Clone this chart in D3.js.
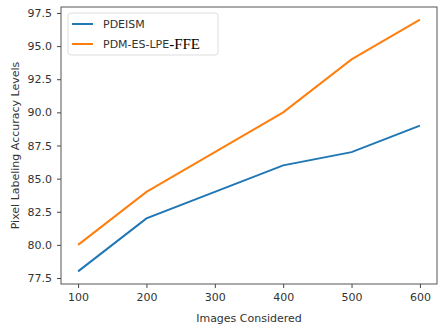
<!DOCTYPE html>
<html>
<head>
<meta charset="utf-8">
<script src="https://cdn.jsdelivr.net/npm/d3@7"></script>
<style>
  body { margin: 0; background: #fff; }
  text { font-family: "DejaVu Sans", sans-serif; fill: #333; }
</style>
</head>
<body>
<svg id="chart" width="447" height="332"></svg>
<script>
var images = [100, 200, 300, 400, 500, 600];
var pdeism = [78, 82, 84, 86, 87, 89];
var pdmFfe = [80, 84, 87, 90, 94, 97];
var yTicks = [77.5, 80.0, 82.5, 85.0, 87.5, 90.0, 92.5, 95.0, 97.5];
var seriesNames = ["PDEISM", "PDM-ES-LPE"];
var colors = ["#1f77b4", "#ff7f0e"];

var svg = d3.select("#chart");
var margin = {top: 7, right: 10, bottom: 48, left: 61};
var width = 447 - margin.left - margin.right;
var height = 332 - margin.top - margin.bottom;

var g = svg.append("g")
    .attr("transform", "translate(" + margin.left + "," + margin.top + ")");

var x = d3.scaleLinear().domain([75, 625]).range([0, width]);
var y = d3.scaleLinear().domain([77.05, 97.95]).range([height, 0]);

var line = d3.line()
    .x(function(d, i) { return x(images[i]); })
    .y(function(d) { return y(d); });

[pdeism, pdmFfe].forEach(function(s, i) {
    g.append("path")
        .datum(s)
        .attr("fill", "none")
        .attr("stroke", colors[i])
        .attr("stroke-width", 2)
        .attr("d", line);
});

var xAxis = g.append("g")
    .attr("transform", "translate(0," + height + ")")
    .call(d3.axisBottom(x).tickValues(images).tickSize(4).tickPadding(5));
var yAxis = g.append("g")
    .call(d3.axisLeft(y).tickValues(yTicks).tickFormat(d3.format(".1f")).tickSize(4).tickPadding(5));

[xAxis, yAxis].forEach(function(a) {
    a.select(".domain").remove();
    a.selectAll("line").attr("stroke", "#444");
    a.selectAll("text").attr("font-size", 11).attr("fill", "#333");
});

g.append("rect")
    .attr("width", width).attr("height", height)
    .attr("fill", "none").attr("stroke", "#555").attr("stroke-width", 1);

svg.append("text")
    .attr("x", margin.left + width / 2).attr("y", 322)
    .attr("text-anchor", "middle").attr("font-size", 11)
    .text("Images Considered");

svg.append("text")
    .attr("transform", "translate(19," + (margin.top + height / 2) + ") rotate(-90)")
    .attr("text-anchor", "middle").attr("font-size", 11)
    .text("Pixel Labeling Accuracy Levels");

// legend
var lg = g.append("g").attr("transform", "translate(7,6)");
lg.append("rect")
    .attr("width", 150).attr("height", 42).attr("rx", 3)
    .attr("fill", "#fff").attr("stroke", "#ddd");
seriesNames.forEach(function(n, i) {
    var yy = 11 + i * 20;
    lg.append("line")
        .attr("x1", 4).attr("x2", 25).attr("y1", yy).attr("y2", yy)
        .attr("stroke", colors[i]).attr("stroke-width", 2);
    var t = lg.append("text")
        .attr("x", 35).attr("y", yy + 4).attr("font-size", 11)
        .text(n);
    if (i === 1) {
        t.append("tspan")
            .attr("font-family", "'Liberation Serif', serif")
            .attr("font-size", 15)
            .attr("dy", 1).attr("fill", "#000")
            .text("-FFE");
    }
});
</script>
</body>
</html>
